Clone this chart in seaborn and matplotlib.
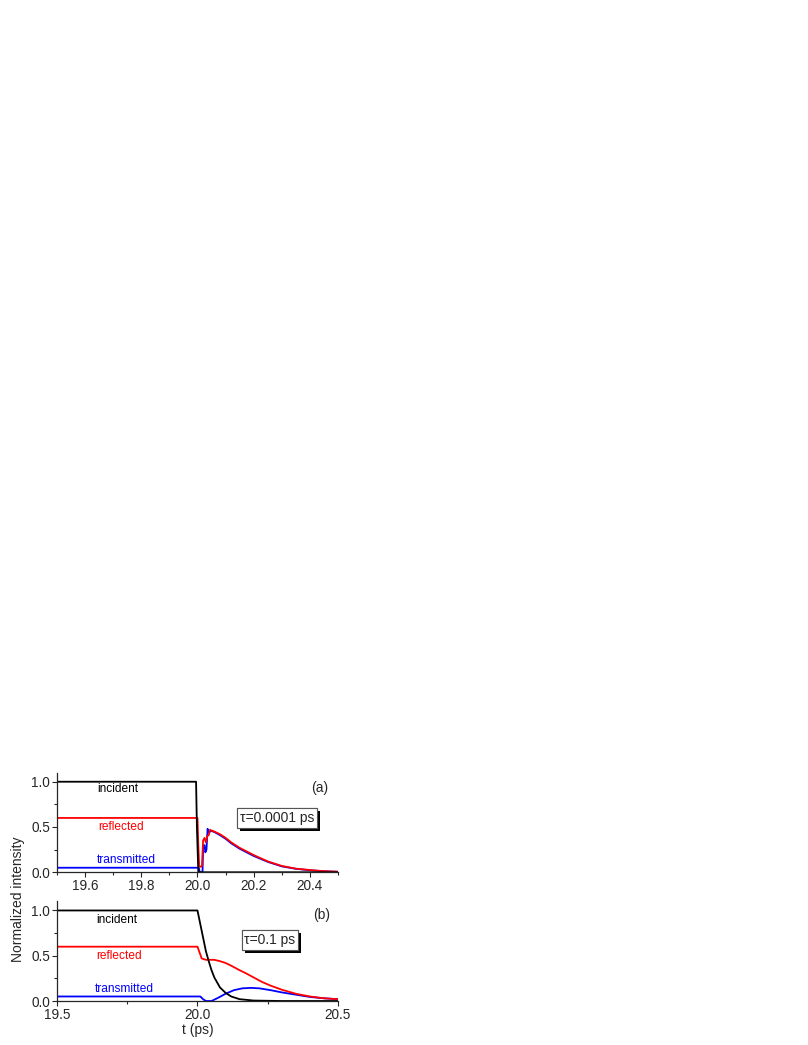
import numpy as np
import pandas as pd
import matplotlib
matplotlib.use("Agg")
import matplotlib.pyplot as plt
import matplotlib.patheffects as pe
from matplotlib.ticker import MultipleLocator, FormatStrFormatter
import seaborn as sns

# ---------------------------------------------------------------------
# DATOS
# ---------------------------------------------------------------------
# panel (a): tau = 0.0001 ps
t_inc_a = [19.5, 19.995, 19.998, 20.003, 20.5]
inc_a = [1.0, 1.0, 0.5, 0.0, 0.0]

t_ref_a = [19.5, 20.0, 20.003, 20.006, 20.012, 20.016, 20.02, 20.025, 20.03, 20.035,
           20.04, 20.045, 20.05, 20.06, 20.08, 20.1, 20.12, 20.15, 20.2, 20.25,
           20.3, 20.35, 20.4, 20.45, 20.5]
ref_a = [0.6, 0.6, 0.3, 0.07, 0.06, 0.07, 0.35, 0.38, 0.33, 0.40,
         0.41, 0.47, 0.46, 0.45, 0.42, 0.38, 0.33, 0.27, 0.19, 0.12,
         0.07, 0.04, 0.025, 0.012, 0.006]

t_tra_a = [19.5, 20.005, 20.008, 20.018, 20.02, 20.025, 20.028, 20.032, 20.036, 20.04,
           20.044, 20.05, 20.06, 20.08, 20.1, 20.12, 20.15, 20.2, 20.25, 20.3,
           20.35, 20.4, 20.45, 20.5]
tra_a = [0.05, 0.05, 0.0, 0.0, 0.28, 0.30, 0.22, 0.25, 0.48, 0.44,
         0.45, 0.455, 0.445, 0.41, 0.37, 0.32, 0.26, 0.18, 0.115, 0.065,
         0.038, 0.022, 0.011, 0.005]

# panel (b): tau = 0.1 ps
t_inc_b = [19.5, 20.0, 20.01, 20.02, 20.03, 20.04, 20.05, 20.06, 20.08, 20.1,
           20.12, 20.15, 20.2, 20.3, 20.5]
inc_b = [1.0, 1.0, 0.85, 0.7, 0.55, 0.44, 0.34, 0.26, 0.15, 0.09,
         0.05, 0.02, 0.005, 0.0, 0.0]

t_ref_b = [19.5, 20.0, 20.015, 20.03, 20.06, 20.08, 20.1, 20.12, 20.15, 20.17,
           20.2, 20.23, 20.26, 20.3, 20.35, 20.4, 20.45, 20.5]
ref_b = [0.6, 0.6, 0.47, 0.455, 0.455, 0.44, 0.42, 0.39, 0.34, 0.31,
         0.26, 0.21, 0.17, 0.125, 0.08, 0.05, 0.03, 0.02]

t_tra_b = [19.5, 20.01, 20.02, 20.03, 20.05, 20.07, 20.1, 20.13, 20.16, 20.19,
           20.22, 20.26, 20.3, 20.35, 20.4, 20.45, 20.5]
tra_b = [0.05, 0.05, 0.02, 0.0, 0.0, 0.03, 0.08, 0.12, 0.14, 0.145,
         0.14, 0.12, 0.095, 0.07, 0.045, 0.03, 0.02]

# ---------------------------------------------------------------------
# ESTILO
# ---------------------------------------------------------------------
sns.set_style("ticks")
plt.rcParams["font.family"] = ["Liberation Sans", "DejaVu Sans"]
plt.rcParams["font.size"] = 10

fig = plt.figure(figsize=(8.08, 10.45), dpi=100)
ax_a = fig.add_axes([0.0705, 0.1653, 0.3478, 0.0953])
ax_b = fig.add_axes([0.0705, 0.0421, 0.3478, 0.0953])

paneles = [
    (ax_a, t_inc_a, inc_a, t_ref_a, ref_a, t_tra_a, tra_a),
    (ax_b, t_inc_b, inc_b, t_ref_b, ref_b, t_tra_b, tra_b),
]

for ax, ti, yi, tr, yr, tt, yt in paneles:
    sns.lineplot(x=tt, y=yt, color="#0000ff", lw=1.3, ax=ax)
    sns.lineplot(x=tr, y=yr, color="#ff0000", lw=1.3, ax=ax)
    sns.lineplot(x=ti, y=yi, color="black", lw=1.3, ax=ax)
    ax.set_xlim(19.5, 20.5)
    ax.set_ylim(0, 1.1)
    ax.yaxis.set_major_locator(MultipleLocator(0.5))
    ax.yaxis.set_minor_locator(MultipleLocator(0.25))
    ax.yaxis.set_major_formatter(FormatStrFormatter("%.1f"))
    ax.tick_params(which="major", direction="out", length=3.5, width=0.8, labelsize=9.8, pad=1.5)
    ax.tick_params(which="minor", direction="out", length=2, width=0.8)
    sns.despine(ax=ax)
    for s in ["left", "bottom"]:
        ax.spines[s].set_linewidth(0.9)
    ax.set_xlabel("")
    ax.set_ylabel("")

ax_a.set_xticks([19.6, 19.8, 20.0, 20.2, 20.4])
ax_a.xaxis.set_minor_locator(MultipleLocator(0.1))
ax_a.xaxis.set_major_formatter(FormatStrFormatter("%.1f"))

ax_b.set_xticks([19.5, 20.0, 20.5])
ax_b.xaxis.set_minor_locator(MultipleLocator(0.25))
ax_b.xaxis.set_major_formatter(FormatStrFormatter("%.1f"))
ax_b.set_xlabel("t (ps)", fontsize=10, labelpad=1)

# etiquetas de las curvas
fs_lab = 8.6
ax_a.text(19.715, 0.92, "incident", color="black", fontsize=fs_lab, ha="center", va="center")
ax_a.text(19.727, 0.50, "reflected", color="#ff0000", fontsize=fs_lab, ha="center", va="center")
ax_a.text(19.746, 0.13, "transmitted", color="#0000ff", fontsize=fs_lab, ha="center", va="center")
ax_a.text(20.436, 0.93, "(a)", fontsize=10, ha="center", va="center")

ax_b.text(19.712, 0.90, "incident", color="black", fontsize=fs_lab, ha="center", va="center")
ax_b.text(19.72, 0.50, "reflected", color="#ff0000", fontsize=fs_lab, ha="center", va="center")
ax_b.text(19.74, 0.13, "transmitted", color="#0000ff", fontsize=fs_lab, ha="center", va="center")
ax_b.text(20.44, 0.95, "(b)", fontsize=10, ha="center", va="center")

# cajas con sombra para tau
for ax, txt, x, y in [(ax_a, "τ=0.0001 ps", 20.283, 0.60), (ax_b, "τ=0.1 ps", 20.258, 0.675)]:
    t = ax.text(x, y, txt, fontsize=10, ha="center", va="center",
                bbox=dict(boxstyle="square,pad=0.2", fc="white", ec="#555555", lw=0.8))
    t.get_bbox_patch().set_path_effects([
        pe.withSimplePatchShadow(offset=(2.2, -2.2), shadow_rgbFace="black", alpha=1.0),
        pe.Normal()])

fig.text(0.022, 0.139, "Normalized intensity", rotation=90, fontsize=10, ha="center", va="center")

fig.savefig("out.png", dpi=100)
